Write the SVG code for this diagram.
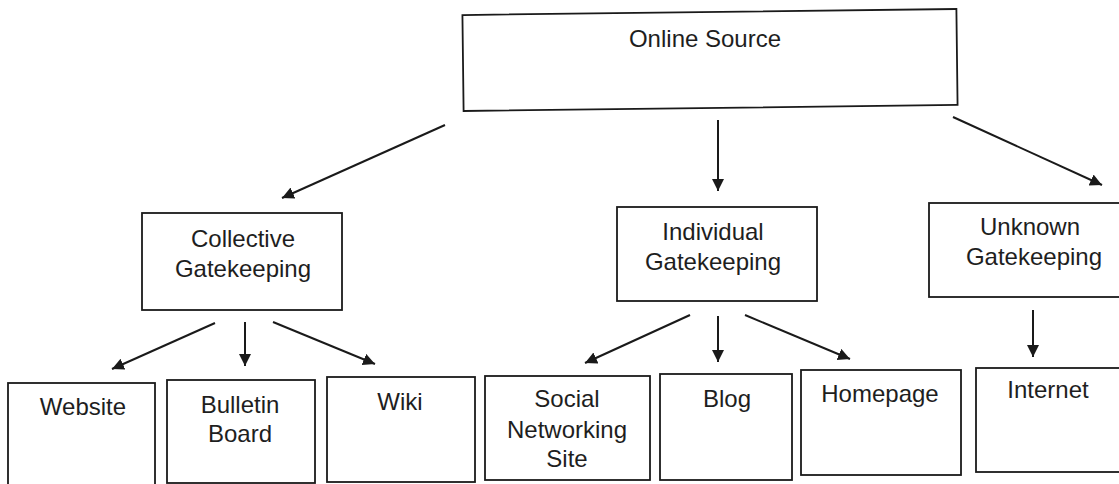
<svg xmlns="http://www.w3.org/2000/svg" width="1119" height="484" viewBox="0 0 1119 484">
  <defs>
    <style>
      .box { fill: #ffffff; stroke: #1a1a1a; stroke-width: 1.8; }
      .lbl { font-family: "Liberation Sans", Arial, sans-serif; font-size: 24px; fill: #1e1e1e; text-anchor: middle; }
      .conn { stroke: #1a1a1a; stroke-width: 2; fill: none; marker-end: url(#arrow); }
    </style>
    <marker id="arrow" markerUnits="userSpaceOnUse" markerWidth="16" markerHeight="14" refX="12" refY="6" orient="auto">
      <path d="M0,0 L12,6 L0,12 Z" fill="#1a1a1a"/>
    </marker>
  </defs>
  <rect width="1119" height="484" fill="#ffffff"/>

  <g id="online-source">
    <rect class="box" x="463" y="12" width="494" height="96" transform="rotate(-0.7 710 60)"/>
    <text class="lbl" x="705" y="47">Online Source</text>
  </g>

  <g id="collective-gatekeeping">
    <rect class="box" x="142" y="213" width="200" height="97"/>
    <text class="lbl" x="243" y="247">Collective</text>
    <text class="lbl" x="243" y="277">Gatekeeping</text>
  </g>

  <g id="individual-gatekeeping">
    <rect class="box" x="617" y="207" width="200" height="94"/>
    <text class="lbl" x="713" y="240">Individual</text>
    <text class="lbl" x="713" y="270">Gatekeeping</text>
  </g>

  <g id="unknown-gatekeeping">
    <rect class="box" x="929" y="203" width="200" height="94"/>
    <text class="lbl" x="1030" y="235">Unknown</text>
    <text class="lbl" x="1034" y="265">Gatekeeping</text>
  </g>

  <g id="website">
    <rect class="box" x="8" y="383" width="147" height="105"/>
    <text class="lbl" x="83" y="415">Website</text>
  </g>

  <g id="bulletin-board">
    <rect class="box" x="167" y="380" width="148" height="103"/>
    <text class="lbl" x="240" y="413">Bulletin</text>
    <text class="lbl" x="240" y="442">Board</text>
  </g>

  <g id="wiki">
    <rect class="box" x="327" y="377" width="148" height="105"/>
    <text class="lbl" x="400" y="410">Wiki</text>
  </g>

  <g id="social-networking-site">
    <rect class="box" x="485" y="376" width="165" height="104"/>
    <text class="lbl" x="567" y="407">Social</text>
    <text class="lbl" x="567" y="438">Networking</text>
    <text class="lbl" x="567" y="467">Site</text>
  </g>

  <g id="blog">
    <rect class="box" x="660" y="374" width="132" height="106"/>
    <text class="lbl" x="727" y="407">Blog</text>
  </g>

  <g id="homepage">
    <rect class="box" x="801" y="370" width="160" height="105"/>
    <text class="lbl" x="880" y="402">Homepage</text>
  </g>

  <g id="internet">
    <rect class="box" x="976" y="368" width="160" height="104"/>
    <text class="lbl" x="1048" y="398">Internet</text>
  </g>

  <g id="connectors">
    <line class="conn" x1="445" y1="125" x2="282" y2="198"/>
    <line class="conn" x1="718" y1="120" x2="718" y2="191"/>
    <line class="conn" x1="953" y1="117" x2="1102" y2="185"/>
    <line class="conn" x1="215" y1="323" x2="112" y2="369"/>
    <line class="conn" x1="245" y1="322" x2="245" y2="366"/>
    <line class="conn" x1="273" y1="322" x2="375" y2="364"/>
    <line class="conn" x1="690" y1="315" x2="585" y2="363"/>
    <line class="conn" x1="718" y1="316" x2="718" y2="362"/>
    <line class="conn" x1="745" y1="315" x2="850" y2="359"/>
    <line class="conn" x1="1033" y1="310" x2="1033" y2="357"/>
  </g>
</svg>
